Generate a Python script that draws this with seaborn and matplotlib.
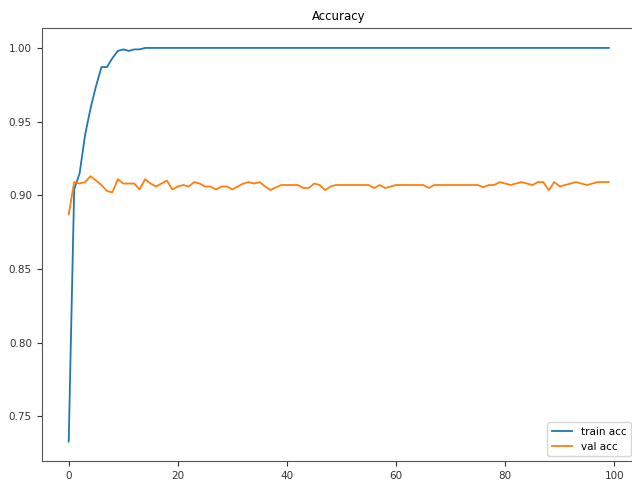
import pandas as pd
import seaborn as sns
import matplotlib
matplotlib.use("Agg")
import matplotlib.pyplot as plt

# accuracy per epoch
train_acc = [
    0.733, 0.904, 0.915, 0.941, 0.959, 0.974, 0.987, 0.987, 0.993, 0.998,
    0.999, 0.998, 0.999, 0.999, 1.0, 1.0, 1.0, 1.0, 1.0, 1.0,
] + [1.0] * 80

val_acc = [
    0.887, 0.909, 0.908, 0.909, 0.913, 0.910, 0.907, 0.903, 0.902, 0.911,
    0.908, 0.908, 0.908, 0.904, 0.911, 0.908, 0.906, 0.908, 0.910, 0.904,
    0.906, 0.907, 0.906, 0.909, 0.908, 0.906, 0.906, 0.904, 0.906, 0.906,
    0.904, 0.906, 0.908, 0.909, 0.908, 0.909, 0.906, 0.9036, 0.9055, 0.907,
    0.907, 0.907, 0.907, 0.905, 0.905, 0.908, 0.907, 0.9036, 0.906, 0.907,
    0.907, 0.907, 0.907, 0.907, 0.907, 0.907, 0.905, 0.907, 0.905, 0.906,
    0.907, 0.907, 0.907, 0.907, 0.907, 0.907, 0.905, 0.907, 0.907, 0.907,
    0.907, 0.907, 0.907, 0.907, 0.907, 0.907, 0.9055, 0.907, 0.907, 0.909,
    0.908, 0.907, 0.908, 0.909, 0.908, 0.907, 0.909, 0.909, 0.9035, 0.909,
    0.906, 0.907, 0.908, 0.909, 0.908, 0.907, 0.908, 0.909, 0.909, 0.909,
]

epochs = list(range(len(train_acc)))

df = pd.DataFrame({
    "epoch": epochs * 2,
    "acc": train_acc + val_acc,
    "series": ["train acc"] * len(train_acc) + ["val acc"] * len(val_acc),
})

fig = plt.figure(figsize=(6.32, 4.87), dpi=100)
ax = fig.add_axes([0.066, 0.053, 0.94, 0.889])

sns.lineplot(
    data=df, x="epoch", y="acc", hue="series",
    palette=["#1f77b4", "#ff7f0e"], linewidth=1.3, ax=ax,
)

ax.set_xlabel("")
ax.set_ylabel("")
ax.set_title("Accuracy", fontsize=8.5)
ax.set_xticks([0, 20, 40, 60, 80, 100])
ax.set_yticks([0.75, 0.80, 0.85, 0.90, 0.95, 1.00])
ax.set_yticklabels(["0.75", "0.80", "0.85", "0.90", "0.95", "1.00"])
ax.tick_params(labelsize=7.5, colors="#333333")
for s in ax.spines.values():
    s.set_color("#555555")

leg = ax.legend(loc="lower right", fontsize=7.5, title=None)

fig.savefig("out.png", dpi=100)
